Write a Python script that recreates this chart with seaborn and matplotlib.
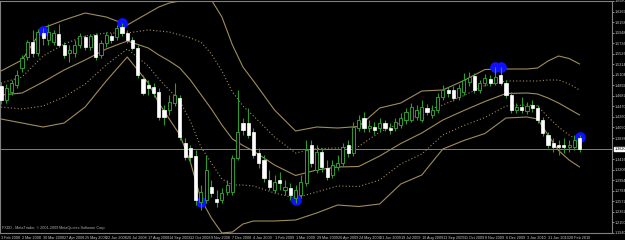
import numpy as np
import pandas as pd
import matplotlib
matplotlib.use("Agg")
import matplotlib.pyplot as plt
import matplotlib.transforms as mtrans
import seaborn as sns

# ---------------- data (weekly candles, week 0 = 3 Feb 2008) ----------------
opens = [1.488,1.460,1.476,1.490,1.524,1.546,1.576,1.554,1.594,1.580,
         1.576,1.592,1.570,1.554,1.554,1.570,1.586,1.566,1.590,1.550,
         1.574,1.588,1.586,1.606,1.594,1.580,1.564,1.502,1.490,1.486,
         1.476,1.440,1.440,1.454,1.464,1.374,1.364,1.348,1.256,1.260,
         1.286,1.262,1.260,1.276,1.276,1.344,1.414,1.414,1.396,1.354,
         1.340,1.300,1.280,1.300,1.280,1.284,1.264,1.270,1.294,1.370,
         1.320,1.356,1.324,1.310,1.326,1.334,1.370,1.354,1.404,1.424,
         1.404,1.406,1.404,1.414,1.404,1.404,1.410,1.420,1.420,1.426,
         1.420,1.444,1.430,1.440,1.466,1.480,1.480,1.466,1.476,1.496,
         1.508,1.480,1.494,1.502,1.494,1.510,1.494,1.470,1.440,1.446,
         1.438,1.450,1.444,1.420,1.390,1.374,1.370,1.370,1.366,1.366,
         1.384]
highs = [1.496,1.492,1.500,1.520,1.550,1.580,1.600,1.602,1.604,1.612,
         1.600,1.612,1.576,1.570,1.580,1.594,1.590,1.592,1.594,1.580,
         1.596,1.594,1.610,1.614,1.600,1.586,1.570,1.510,1.500,1.494,
         1.484,1.450,1.470,1.494,1.470,1.384,1.370,1.360,1.290,1.350,
         1.300,1.280,1.284,1.300,1.350,1.480,1.424,1.444,1.404,1.364,
         1.350,1.320,1.310,1.316,1.300,1.294,1.290,1.310,1.380,1.380,
         1.370,1.364,1.340,1.340,1.350,1.374,1.380,1.416,1.430,1.436,
         1.420,1.416,1.424,1.420,1.414,1.424,1.434,1.444,1.454,1.450,
         1.460,1.452,1.450,1.474,1.490,1.486,1.488,1.492,1.514,1.516,
         1.514,1.500,1.512,1.510,1.526,1.526,1.500,1.476,1.454,1.466,
         1.456,1.460,1.450,1.426,1.396,1.384,1.380,1.384,1.380,1.390,
         1.390]
lows = [1.452,1.454,1.470,1.484,1.516,1.540,1.546,1.548,1.570,1.570,
        1.570,1.566,1.544,1.536,1.546,1.564,1.560,1.560,1.540,1.544,
        1.566,1.574,1.580,1.588,1.574,1.560,1.504,1.470,1.470,1.466,
        1.420,1.410,1.430,1.448,1.380,1.340,1.336,1.250,1.240,1.254,
        1.266,1.246,1.254,1.270,1.270,1.340,1.390,1.384,1.344,1.324,
        1.296,1.280,1.274,1.280,1.270,1.260,1.254,1.264,1.288,1.326,
        1.314,1.316,1.300,1.304,1.320,1.328,1.346,1.348,1.398,1.396,
        1.396,1.392,1.396,1.398,1.392,1.398,1.404,1.412,1.416,1.420,
        1.416,1.430,1.424,1.434,1.460,1.466,1.458,1.460,1.470,1.488,
        1.474,1.474,1.488,1.488,1.490,1.490,1.464,1.434,1.434,1.434,
        1.432,1.436,1.414,1.388,1.364,1.356,1.350,1.354,1.356,1.360,
        1.356]
closes = [1.460,1.484,1.494,1.510,1.544,1.576,1.554,1.596,1.584,1.596,
          1.594,1.570,1.550,1.560,1.570,1.588,1.566,1.588,1.546,1.574,
          1.590,1.580,1.604,1.594,1.580,1.564,1.510,1.474,1.484,1.474,
          1.426,1.426,1.456,1.470,1.386,1.346,1.346,1.260,1.276,1.320,
          1.274,1.256,1.274,1.290,1.344,1.396,1.400,1.390,1.350,1.334,
          1.304,1.286,1.296,1.294,1.286,1.270,1.280,1.296,1.360,1.334,
          1.356,1.326,1.306,1.330,1.334,1.366,1.354,1.406,1.420,1.404,
          1.408,1.400,1.414,1.404,1.400,1.416,1.424,1.436,1.446,1.440,
          1.446,1.436,1.440,1.466,1.480,1.474,1.464,1.484,1.500,1.506,
          1.480,1.494,1.504,1.494,1.506,1.494,1.470,1.440,1.446,1.440,
          1.448,1.444,1.420,1.394,1.370,1.366,1.366,1.366,1.370,1.380,
          1.362]

band_weeks = [0, 4, 8, 12, 16, 20, 24, 28, 30, 32, 34, 36, 38, 40, 42, 44, 46, 48, 52, 56,
              60, 64, 68, 72, 76, 80, 84, 88, 92, 96, 100, 102, 104, 106, 108, 110]
upper2 = [1.518,1.540,1.604,1.620,1.634,1.626,1.610,1.634,1.646,1.654,
          1.658,1.666,1.680,1.660,1.626,1.570,1.526,1.498,1.440,1.398,
          1.406,1.404,1.407,1.444,1.454,1.478,1.480,1.499,1.521,1.522,
          1.522,1.524,1.538,1.548,1.543,1.532]
upper1 = [1.494,1.506,1.548,1.572,1.588,1.594,1.594,1.600,1.598,1.596,
          1.590,1.584,1.576,1.552,1.518,1.476,1.448,1.428,1.386,1.354,
          1.363,1.364,1.367,1.396,1.414,1.436,1.450,1.469,1.489,1.498,
          1.498,1.498,1.500,1.500,1.492,1.480]
middle = [1.470,1.474,1.496,1.520,1.540,1.562,1.578,1.564,1.550,1.538,
          1.524,1.500,1.471,1.442,1.410,1.382,1.369,1.358,1.330,1.309,
          1.320,1.326,1.327,1.348,1.373,1.394,1.420,1.439,1.457,1.473,
          1.474,1.472,1.464,1.454,1.442,1.430]
lower1 = [1.446,1.442,1.448,1.466,1.492,1.530,1.562,1.528,1.502,1.480,
          1.458,1.418,1.366,1.334,1.302,1.290,1.290,1.288,1.274,1.264,
          1.276,1.288,1.287,1.300,1.332,1.352,1.390,1.409,1.425,1.448,
          1.450,1.448,1.426,1.406,1.390,1.378]
lower2 = [1.422,1.414,1.406,1.414,1.446,1.498,1.546,1.494,1.454,1.422,
          1.390,1.336,1.262,1.224,1.194,1.196,1.212,1.218,1.218,1.220,
          1.234,1.250,1.247,1.252,1.292,1.310,1.362,1.379,1.393,1.424,
          1.426,1.422,1.390,1.359,1.340,1.326]

# signal circles
signal_weeks = [8, 23, 38, 56, 94, 95, 110]
signal_prices = [1.598, 1.614, 1.256, 1.260, 1.526, 1.526, 1.386]

current_price = 1.3620
price_ticks = [1.6580,1.6369,1.6158,1.5948,1.5736,1.5526,1.5314,1.5104,1.4892,1.4682,1.4470,
               1.4260,1.4050,1.3838,1.3416,1.3206,1.2994,1.2784,1.2572,1.2362,1.2150,1.1940]
date_labels = ["3 Feb 2008","2 Mar 2008","30 Mar 2008","27 Apr 2008","25 May 2008","22 Jun 2008",
               "20 Jul 2008","17 Aug 2008","14 Sep 2008","12 Oct 2008","9 Nov 2008","7 Dec 2008",
               "4 Jan 2009","1 Feb 2009","1 Mar 2009","29 Mar 2009","26 Apr 2009","24 May 2009",
               "21 Jun 2009","19 Jul 2009","16 Aug 2009","13 Sep 2009","11 Oct 2009","8 Nov 2009",
               "6 Dec 2009","3 Jan 2010","31 Jan 2010","28 Feb 2010"]
date_weeks = list(range(0, 109, 4))
copyright_text = "FXDD - MetaTrader, \u00a9 2001-2009 MetaQuotes Software Corp."

# ---------------- styling ----------------
sns.set_theme(style="dark", rc={"axes.facecolor": "black", "figure.facecolor": "black",
                                "axes.edgecolor": "#808080", "text.color": "#c8c8c8",
                                "xtick.color": "#c8c8c8", "ytick.color": "#c8c8c8"})
plt.rcParams['font.family'] = ['Liberation Sans Narrow', 'Liberation Sans', 'DejaVu Sans']

GREEN = "#2f9a2f"
TAN = "#a08c5c"
FS = 2.7

W, H = 625, 240
fig = plt.figure(figsize=(W / 100, H / 100), dpi=100)
ax = fig.add_axes([0, 7 / H, 612 / W, 232 / H])
ax.set_facecolor("black")

df = pd.DataFrame({"week": np.arange(len(opens)), "open": opens, "high": highs,
                   "low": lows, "close": closes})
bands = pd.DataFrame({"week": band_weeks, "u2": upper2, "u1": upper1, "m": middle,
                      "l1": lower1, "l2": lower2})

ax.axhline(current_price, color="#808080", lw=0.7, zorder=1)

for col, ls in [("u2", "-"), ("u1", (0, (1, 2))), ("m", "-"), ("l1", (0, (1, 2))), ("l2", "-")]:
    sns.lineplot(data=bands, x="week", y=col, ax=ax, color=TAN, lw=0.8, linestyle=ls, zorder=2)

ax.scatter(signal_weeks, signal_prices, s=60, color="#1010ff", zorder=3, linewidths=0)

ax.vlines(df["week"], df["low"], df["high"], color=GREEN, lw=0.8, zorder=4)
bull = df[df["close"] >= df["open"]]
bear = df[df["close"] < df["open"]]
ax.bar(bull["week"], (bull["close"] - bull["open"]).clip(lower=0.0015), bottom=bull["open"],
       width=0.6, color="black", edgecolor=GREEN, lw=0.7, zorder=5)
ax.bar(bear["week"], (bear["open"] - bear["close"]).clip(lower=0.0015), bottom=bear["close"],
       width=0.6, color="white", edgecolor="white", lw=0.5, zorder=5)

ax.set_xlim(-0.19, 116.16)
ax.set_ylim(1.194, 1.658)
ax.set_xlabel("")
ax.set_ylabel("")
ax.grid(False)
for s in ax.spines.values():
    s.set_color("#808080")
    s.set_linewidth(0.8)

ax.yaxis.tick_right()
ax.set_yticks(price_ticks)
ax.set_yticklabels([f"{p:.4f}" for p in price_ticks])
ax.tick_params(axis="y", direction="out", length=1.5, width=0.5, pad=0.6, labelsize=FS,
               colors="#c8c8c8")
ax.set_xticks(date_weeks)
ax.set_xticklabels(date_labels)
ax.tick_params(axis="x", direction="out", length=2, width=0.5, pad=0.3, labelsize=FS,
               colors="#c8c8c8")
for lbl in ax.get_xticklabels():
    lbl.set_ha("left")

trans = mtrans.blended_transform_factory(ax.transAxes, ax.transData)
ax.text(1.0045, current_price, f"{current_price:.4f}", transform=trans, fontsize=FS,
        color="black", va="center", ha="left",
        bbox=dict(boxstyle="square,pad=0.1", fc="white", ec="white"), clip_on=False, zorder=10)
ax.text(2 / 612, 3 / 232, copyright_text, transform=ax.transAxes, fontsize=FS,
        color="#b0b0b0", ha="left", va="bottom")

fig.savefig("out.png", dpi=100, facecolor="black")
